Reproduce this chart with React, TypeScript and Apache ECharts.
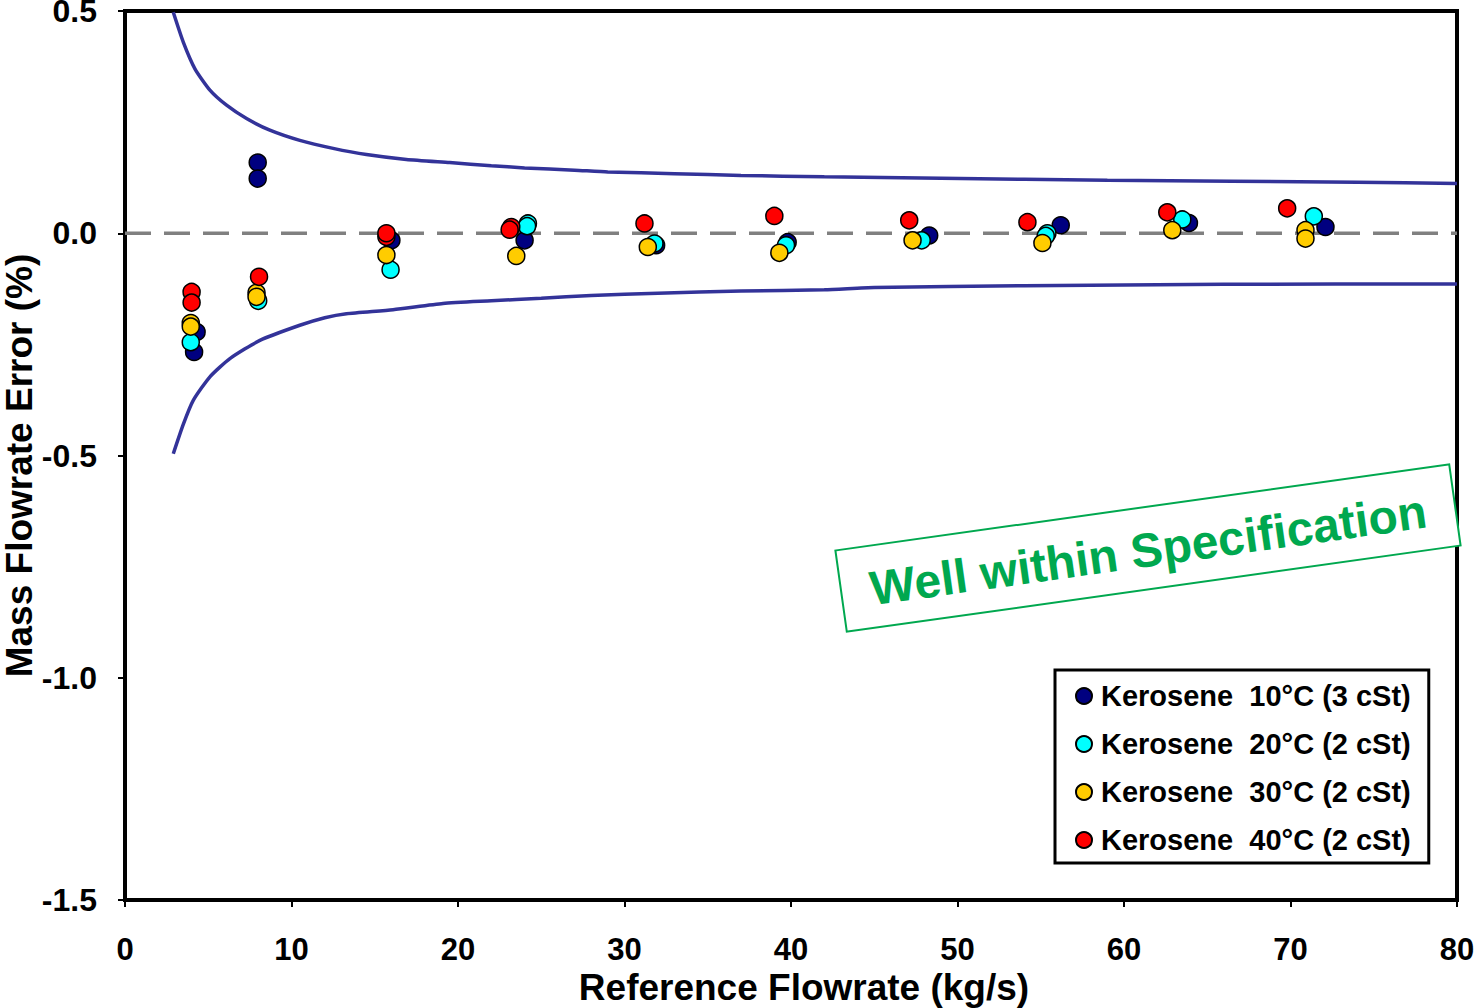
import React, { useEffect, useRef } from "react";
import * as echarts from "echarts";

const FONT = '"Liberation Sans", Arial, sans-serif';

const seriesNames = [
  "Kerosene  10°C (3 cSt)",
  "Kerosene  20°C (2 cSt)",
  "Kerosene  30°C (2 cSt)",
  "Kerosene  40°C (2 cSt)",
];
const seriesColors = ["#000080", "#00FFFF", "#FFCC00", "#FF0000"];

const kero10: number[][] = [
  [4.3, -0.222], [4.15, -0.267], [7.97, 0.159], [7.97, 0.123], [16.0, -0.016],
  [24.0, -0.016], [31.9, -0.027], [39.8, -0.02], [48.3, -0.005], [56.2, 0.018],
  [63.9, 0.023], [72.1, 0.014],
];
const kero20: number[][] = [
  [3.95, -0.245], [8.0, -0.152], [15.95, -0.082], [24.2, 0.022], [24.15, 0.016],
  [31.8, -0.023], [39.7, -0.027], [47.85, -0.016], [55.4, 0.0], [55.3, -0.006],
  [63.5, 0.031], [71.4, 0.038],
];
const kero30: number[][] = [
  [3.95, -0.202], [3.95, -0.21], [7.9, -0.134], [7.9, -0.143], [15.7, -0.049],
  [23.5, -0.051], [31.4, -0.031], [39.3, -0.044], [47.3, -0.016], [55.1, -0.022],
  [62.9, 0.007], [70.9, 0.007], [70.9, -0.012],
];
const kero40: number[][] = [
  [4.0, -0.132], [4.0, -0.156], [8.05, -0.098], [15.7, -0.008], [15.7, 0.0],
  [23.2, 0.014], [23.1, 0.008], [31.2, 0.022], [39.0, 0.039], [47.1, 0.029],
  [54.2, 0.025], [62.6, 0.047], [69.8, 0.056],
];

const upperSpec: number[][] = [
  [2.9, 0.497], [3.5, 0.43], [4.2, 0.37], [5.1, 0.322], [6.1, 0.288], [7.3, 0.258],
  [8.7, 0.232], [10.5, 0.209], [12.5, 0.191], [14.5, 0.177], [16.9, 0.166],
  [19.5, 0.159], [22, 0.152], [24, 0.147], [27, 0.142], [29, 0.138], [33, 0.134],
  [37, 0.13], [42, 0.127], [49, 0.124], [59, 0.119], [74, 0.115], [80, 0.112],
];
const lowerSpec: number[][] = [
  [2.9, -0.496], [3.5, -0.43], [4.1, -0.376], [5.1, -0.323], [6.3, -0.282],
  [8.1, -0.241], [10.5, -0.207], [12, -0.19], [13.3, -0.181], [16.1, -0.172],
  [19.1, -0.158], [22, -0.152], [25, -0.146], [28, -0.14], [32, -0.135], [37, -0.13],
  [42, -0.127], [45, -0.122], [54, -0.118], [66, -0.115], [80, -0.114],
];
const zeroLine: number[][] = [[0, 0], [80, 0]];

const xTicks = { min: 0, max: 80, interval: 10 };
const yTicks = { min: -1.5, max: 0.5, interval: 0.5 };

export default function App() {
  const ref = useRef<HTMLDivElement>(null);
  useEffect(() => {
    if (!ref.current) return;
    const chart = echarts.init(ref.current, undefined, { renderer: "svg" });
    const scatterData = [kero10, kero20, kero30, kero40];
    const specColor = "#333399";
    const green = "#00A84F";
    chart.setOption({
      animation: false,
      backgroundColor: "#ffffff",
      textStyle: { fontFamily: FONT },
      grid: {
        left: 125,
        right: 20,
        top: 11,
        bottom: 108,
        outerBoundsMode: "none",
        containLabel: false,
        show: true,
        borderColor: "#000",
        borderWidth: 4,
        backgroundColor: "transparent",
      },
      xAxis: {
        type: "value",
        min: xTicks.min,
        max: xTicks.max,
        interval: xTicks.interval,
        name: "Reference Flowrate (kg/s)",
        nameLocation: "middle",
        nameGap: 69,
        nameMoveOverlap: false,
        nameTextStyle: {
          fontSize: 37,
          fontWeight: "bold",
          color: "#000",
          fontFamily: FONT,
          padding: [0, 0, 0, 26],
        },
        axisLine: { show: false, onZero: false },
        axisTick: { show: true, inside: false, length: 7, lineStyle: { color: "#000", width: 2 } },
        axisLabel: { fontSize: 31, fontWeight: "bold", color: "#000", margin: 34, fontFamily: FONT },
        splitLine: { show: false },
      },
      yAxis: {
        type: "value",
        min: yTicks.min,
        max: yTicks.max,
        interval: yTicks.interval,
        name: "Mass Flowrate Error (%)",
        nameLocation: "middle",
        nameGap: 87,
        nameMoveOverlap: false,
        nameTextStyle: {
          fontSize: 37,
          lineHeight: 37,
          fontWeight: "bold",
          color: "#000",
          fontFamily: FONT,
          padding: [0, 20, 0, 0],
        },
        axisLine: { show: false, onZero: false },
        axisTick: { show: true, inside: false, length: 7, lineStyle: { color: "#000", width: 2 } },
        axisLabel: {
          fontSize: 32,
          lineHeight: 24,
          fontWeight: "bold",
          color: "#000",
          margin: 28,
          padding: [6, 0, 0, 0],
          fontFamily: FONT,
          formatter: (v: number) => v.toFixed(1),
        },
        splitLine: { show: false },
      },
      legend: {
        data: seriesNames,
        orient: "vertical",
        left: 1055,
        top: 670,
        padding: [11, 18, 8, 20],
        itemGap: 18,
        itemWidth: 16,
        itemHeight: 16,
        backgroundColor: "#fff",
        borderColor: "#000",
        borderWidth: 3,
        textStyle: {
          fontSize: 29,
          fontWeight: "bold",
          color: "#000",
          fontFamily: FONT,
          lineHeight: 30,
          padding: [0, 0, 0, 4],
        },
      },
      graphic: [
        {
          type: "group",
          x: 1148,
          y: 548,
          rotation: 0.1396,
          z: 100,
          children: [
            {
              type: "rect",
              shape: { x: -310, y: -41, width: 620, height: 82 },
              style: { fill: "#fff", stroke: green, lineWidth: 2 },
            },
            {
              type: "text",
              x: 0,
              y: 2,
              style: {
                text: "Well within Specification",
                font: `bold 48px ${FONT}`,
                fill: green,
                align: "center",
                verticalAlign: "middle",
                textAlign: "center",
                textVerticalAlign: "middle",
              },
            },
          ],
        },
      ],
      series: [
        {
          name: "zero",
          type: "line",
          data: zeroLine,
          showSymbol: false,
          silent: true,
          lineStyle: { color: "#808080", width: 3.5, type: [26, 13] },
          z: 1,
        },
        {
          name: "upper",
          type: "line",
          data: upperSpec,
          showSymbol: false,
          silent: true,
          smooth: 0.2,
          lineStyle: { color: specColor, width: 3.5 },
          z: 1,
        },
        {
          name: "lower",
          type: "line",
          data: lowerSpec,
          showSymbol: false,
          silent: true,
          smooth: 0.2,
          lineStyle: { color: specColor, width: 3.5 },
          z: 1,
        },
        ...scatterData.map((d, i) => ({
          name: seriesNames[i],
          type: "scatter",
          data: d,
          symbol: "circle",
          symbolSize: 17,
          itemStyle: { color: seriesColors[i], borderColor: "#000", borderWidth: 1.5, opacity: 1 },
          z: 3,
        })),
      ],
    });
    return () => chart.dispose();
  }, []);
  return (
    <div
      ref={ref}
      style={{ position: "absolute", left: 0, top: 0, width: 1477, height: 1008 }}
    />
  );
}
